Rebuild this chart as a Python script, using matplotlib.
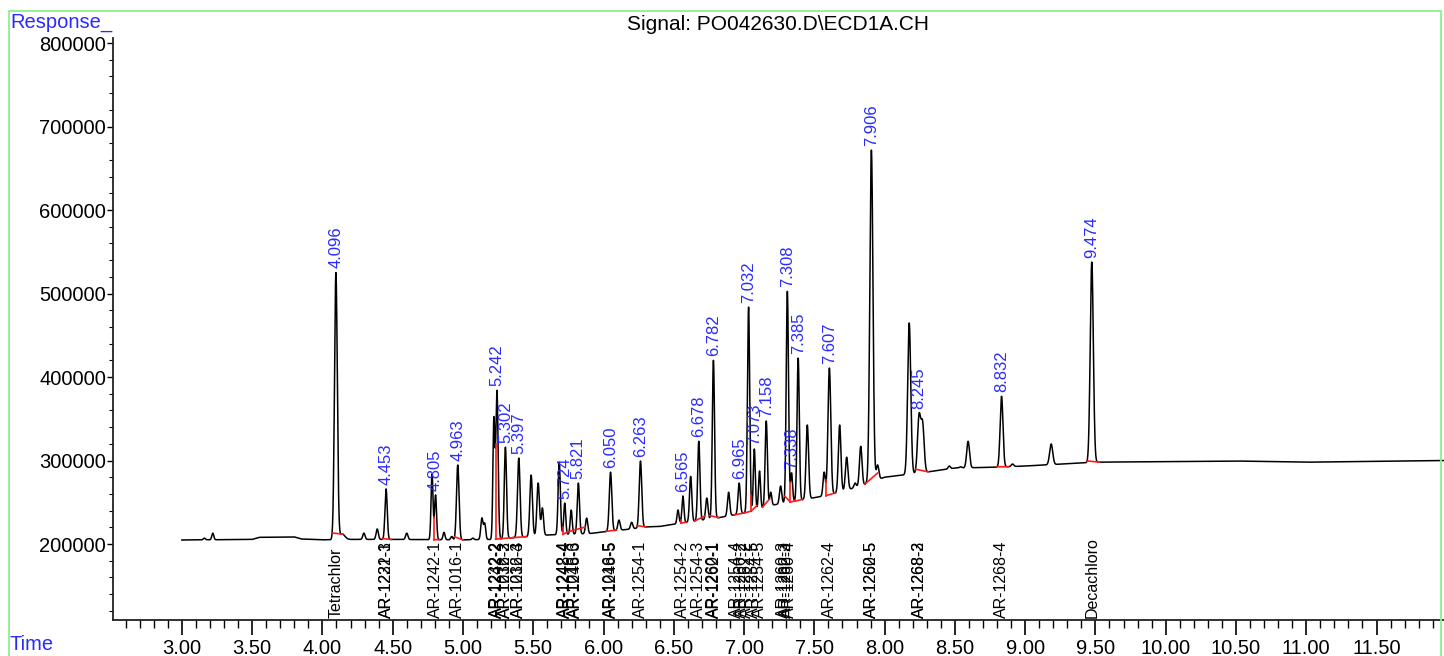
import numpy as np
import matplotlib
matplotlib.use("Agg")
import matplotlib.pyplot as plt
from matplotlib.ticker import FixedLocator, FuncFormatter
from matplotlib.patches import Rectangle

plt.rcParams['font.family'] = ['Liberation Sans', 'DejaVu Sans']

# ---------------- data ----------------
base_t = [3.00, 3.50, 3.55, 3.80, 3.85, 4.00, 4.20, 4.50, 5.00, 5.20, 5.50, 5.60, 5.90,
          6.05, 6.20, 6.30, 6.40, 6.55, 6.80, 7.00, 7.20, 7.40, 7.60, 7.80, 8.00, 8.25,
          8.50, 8.80, 9.00, 9.50, 10.50, 11.00, 11.98]
base_v = [204800, 205500, 208000, 208500, 206000, 205000, 205500, 205500, 205000, 205500,
          209500, 210800, 212500, 215500, 218000, 220500, 221000, 225000, 231000, 237000,
          246500, 252500, 258500, 268000, 280000, 285000, 291000, 292000, 293400, 298000,
          299400, 298000, 300000]

peak_rt = [3.16, 3.22, 4.096, 4.14, 4.295, 4.39, 4.453, 4.60, 4.78, 4.805, 4.865, 4.92,
           4.963, 5.07, 5.135, 5.155, 5.22, 5.242, 5.302, 5.397, 5.485, 5.535, 5.565,
           5.685, 5.724, 5.77, 5.821, 5.88, 6.050, 6.11, 6.20, 6.263, 6.53, 6.565, 6.62,
           6.678, 6.735, 6.782, 6.89, 6.965, 7.032, 7.073, 7.11, 7.158, 7.19, 7.26, 7.308,
           7.338, 7.385, 7.45, 7.57, 7.607, 7.68, 7.73, 7.79, 7.83, 7.906, 7.95, 8.175,
           8.245, 8.27, 8.46, 8.54, 8.594, 8.832, 8.91, 9.185, 9.474]
peak_top = [207000, 213000, 524500, 212000, 213000, 218000, 266000, 213000, 284000, 258700,
            214000, 209000, 294600, 207000, 231000, 224000, 348500, 383000, 316000, 303000,
            282600, 273000, 243000, 298000, 249000, 240700, 273000, 231000, 286000, 228700,
            226000, 299400, 240700, 257500, 281000, 323000, 255000, 420000, 262000, 273000,
            483800, 313800, 287400, 347300, 262000, 269500, 503000, 285000, 422700, 342500,
            286000, 410800, 342500, 304000, 273000, 317000, 671800, 294600, 464700, 352000,
            343000, 293400, 292500, 323000, 377000, 295800, 319800, 537700]
peak_sd = [0.007, 0.007, 0.010, 0.02, 0.008, 0.008, 0.008, 0.008, 0.007, 0.007, 0.007,
           0.007, 0.009, 0.007, 0.008, 0.007, 0.007, 0.008, 0.008, 0.009, 0.009, 0.009,
           0.008, 0.008, 0.007, 0.007, 0.008, 0.008, 0.009, 0.008, 0.008, 0.009, 0.007,
           0.007, 0.008, 0.008, 0.008, 0.008, 0.008, 0.008, 0.008, 0.007, 0.007, 0.008,
           0.007, 0.008, 0.008, 0.007, 0.008, 0.009, 0.008, 0.010, 0.009, 0.009, 0.008,
           0.009, 0.011, 0.009, 0.011, 0.011, 0.011, 0.008, 0.008, 0.010, 0.010, 0.009,
           0.011, 0.011]

rt_labels = [4.096, 4.453, 4.805, 4.963, 5.242, 5.302, 5.397, 5.724, 5.821, 6.050, 6.263,
             6.565, 6.678, 6.782, 6.965, 7.032, 7.073, 7.158, 7.308, 7.338, 7.385, 7.607,
             7.906, 8.245, 8.832, 9.474]

comp_rt = [4.096, 4.453, 4.457, 4.805, 4.963, 5.240, 5.245, 5.305, 5.302, 5.392, 5.397,
           5.730, 5.724, 5.795, 5.800, 6.050, 6.054, 6.263, 6.565, 6.678, 6.782, 6.786,
           6.948, 6.985, 7.020, 7.065, 7.110, 7.280, 7.300, 7.320, 7.607, 7.906, 7.909,
           8.245, 8.249, 8.832, 9.474]
comp_name = ["Tetrachlor", "AR-1221-3", "AR-1232-1", "AR-1242-1", "AR-1016-1",
             "AR-1232-2", "AR-1242-2", "AR-1016-2", "AR-1232-3", "AR-1016-3", "AR-1232-4",
             "AR-1248-4", "AR-1242-4", "AR-1016-6", "AR-1248-3", "AR-1016-5", "AR-1248-5",
             "AR-1254-1", "AR-1254-2", "AR-1254-3", "AR-1260-1", "AR-1262-1",
             "AR-1254-4", "AR-1260-2", "AR-1262-2", "AR-1254-5", "AR-1254-5",
             "AR-1260-3", "AR-1262-3", "AR-1260-4", "AR-1262-4", "AR-1260-5", "AR-1262-5",
             "AR-1268-2", "AR-1268-3", "AR-1268-4", "Decachloro"]

# integration baselines (red): start / end times, and drop lines
seg_start = [4.07, 4.43, 4.795, 4.94, 5.232, 5.27, 5.36, 5.712, 5.74, 6.02, 6.24,
             6.55, 6.65, 6.75, 6.93, 7.00, 7.05, 7.13, 7.29, 7.33, 7.36, 7.585, 7.86,
             8.22, 8.80, 9.44]
seg_end = [4.145, 4.49, 4.83, 5.00, 5.27, 5.36, 5.45, 5.74, 5.87, 6.09, 6.30,
           6.59, 6.72, 6.82, 7.00, 7.05, 7.09, 7.18, 7.33, 7.36, 7.42, 7.65, 7.95,
           8.31, 8.88, 9.53]
drop_rt = [4.795, 5.232, 5.27, 5.712, 6.55, 7.05, 7.33, 7.36, 7.585]

# ---------------- build signal ----------------
def baseline(t):
    return np.interp(t, base_t, base_v)

def signal(t):
    t = np.asarray(t, dtype=float)
    s = baseline(t)
    for rt, top, sd in zip(peak_rt, peak_top, peak_sd):
        h = top - baseline(rt)
        s = s + h * np.exp(-0.5 * ((t - rt) / sd) ** 2)
    return s

def seg_level(tt):
    if any(abs(tt - d) < 1e-9 for d in drop_rt):
        return float(baseline(tt))
    return float(min(signal(tt), baseline(tt) + 8000))

t = np.linspace(3.0, 11.975, 9000)
y = signal(t)

fig = plt.figure(figsize=(14.44, 6.56), dpi=100)
ax = fig.add_axes([113 / 1444, 1 - 620 / 656, 1 - 113 / 1444, (620 - 38) / 656])

ax.plot(t, y, color='black', lw=1.1)

for a, b in zip(seg_start, seg_end):
    ax.plot([a, b], [seg_level(a), seg_level(b)], color='#ff1a1a', lw=1.2)
for d in drop_rt:
    ax.plot([d, d], [baseline(d), signal(d)], color='#ff1a1a', lw=1.2)

blue = '#2a2aff'
for rt in rt_labels:
    ax.annotate(f"{rt:.3f}", xy=(rt, float(signal(rt))), xytext=(0, 3),
                textcoords='offset points', rotation=90, ha='center', va='bottom',
                color=blue, fontsize=12)

for rt, name in zip(comp_rt, comp_name):
    ax.text(rt, 0.004, name, transform=ax.get_xaxis_transform(), rotation=90,
            ha='center', va='bottom', fontsize=11.5, color='black')

ax.set_xlim(2.51, 11.98)
ax.set_ylim(109000, 806000)

ax.spines['top'].set_visible(False)
ax.spines['right'].set_visible(False)
for s in ('left', 'bottom'):
    ax.spines[s].set_linewidth(1.3)
    ax.spines[s].set_color('#222222')

xmaj = [3.0 + 0.5 * i for i in range(18)]
xmin = [2.6 + 0.1 * i for i in range(94)]
ax.xaxis.set_major_locator(FixedLocator(xmaj))
ax.xaxis.set_minor_locator(FixedLocator(xmin))
ax.xaxis.set_major_formatter(FuncFormatter(lambda v, p: f"{v:.2f}"))
ymaj = [200000 + 100000 * i for i in range(7)]
ymin = [120000 + 20000 * i for i in range(35)]
ax.yaxis.set_major_locator(FixedLocator(ymaj))
ax.yaxis.set_minor_locator(FixedLocator(ymin))
ax.yaxis.set_major_formatter(FuncFormatter(lambda v, p: f"{int(v)}"))

ax.tick_params(axis='x', which='major', length=11, width=1.2, labelsize=14.5, pad=3,
               direction='out')
ax.tick_params(axis='x', which='minor', length=6, width=1.0, direction='out')
ax.tick_params(axis='y', which='major', length=4, width=1.0, labelsize=14.5, pad=1,
               direction='out')
ax.tick_params(axis='y', which='minor', length=3, width=0.8, direction='out')

fig.text(10 / 1444, 1 - 22 / 656, "Response_", color=blue, fontsize=14.5,
         ha='left', va='center')
fig.text(10 / 1444, 1 - 645 / 656, "Time", color=blue, fontsize=14.5,
         ha='left', va='center')
fig.text(778 / 1444, 1 - 25 / 656, "Signal: PO042630.D\\ECD1A.CH", color='black',
         fontsize=15, ha='center', va='center')

fig.patches.append(Rectangle((9 / 1444, -0.01), (1441 - 9) / 1444, 1 - 11 / 656 + 0.01,
                             transform=fig.transFigure, fill=False,
                             edgecolor='#8cf08c', lw=1.3, zorder=0))

fig.savefig("out.png", dpi=100)
